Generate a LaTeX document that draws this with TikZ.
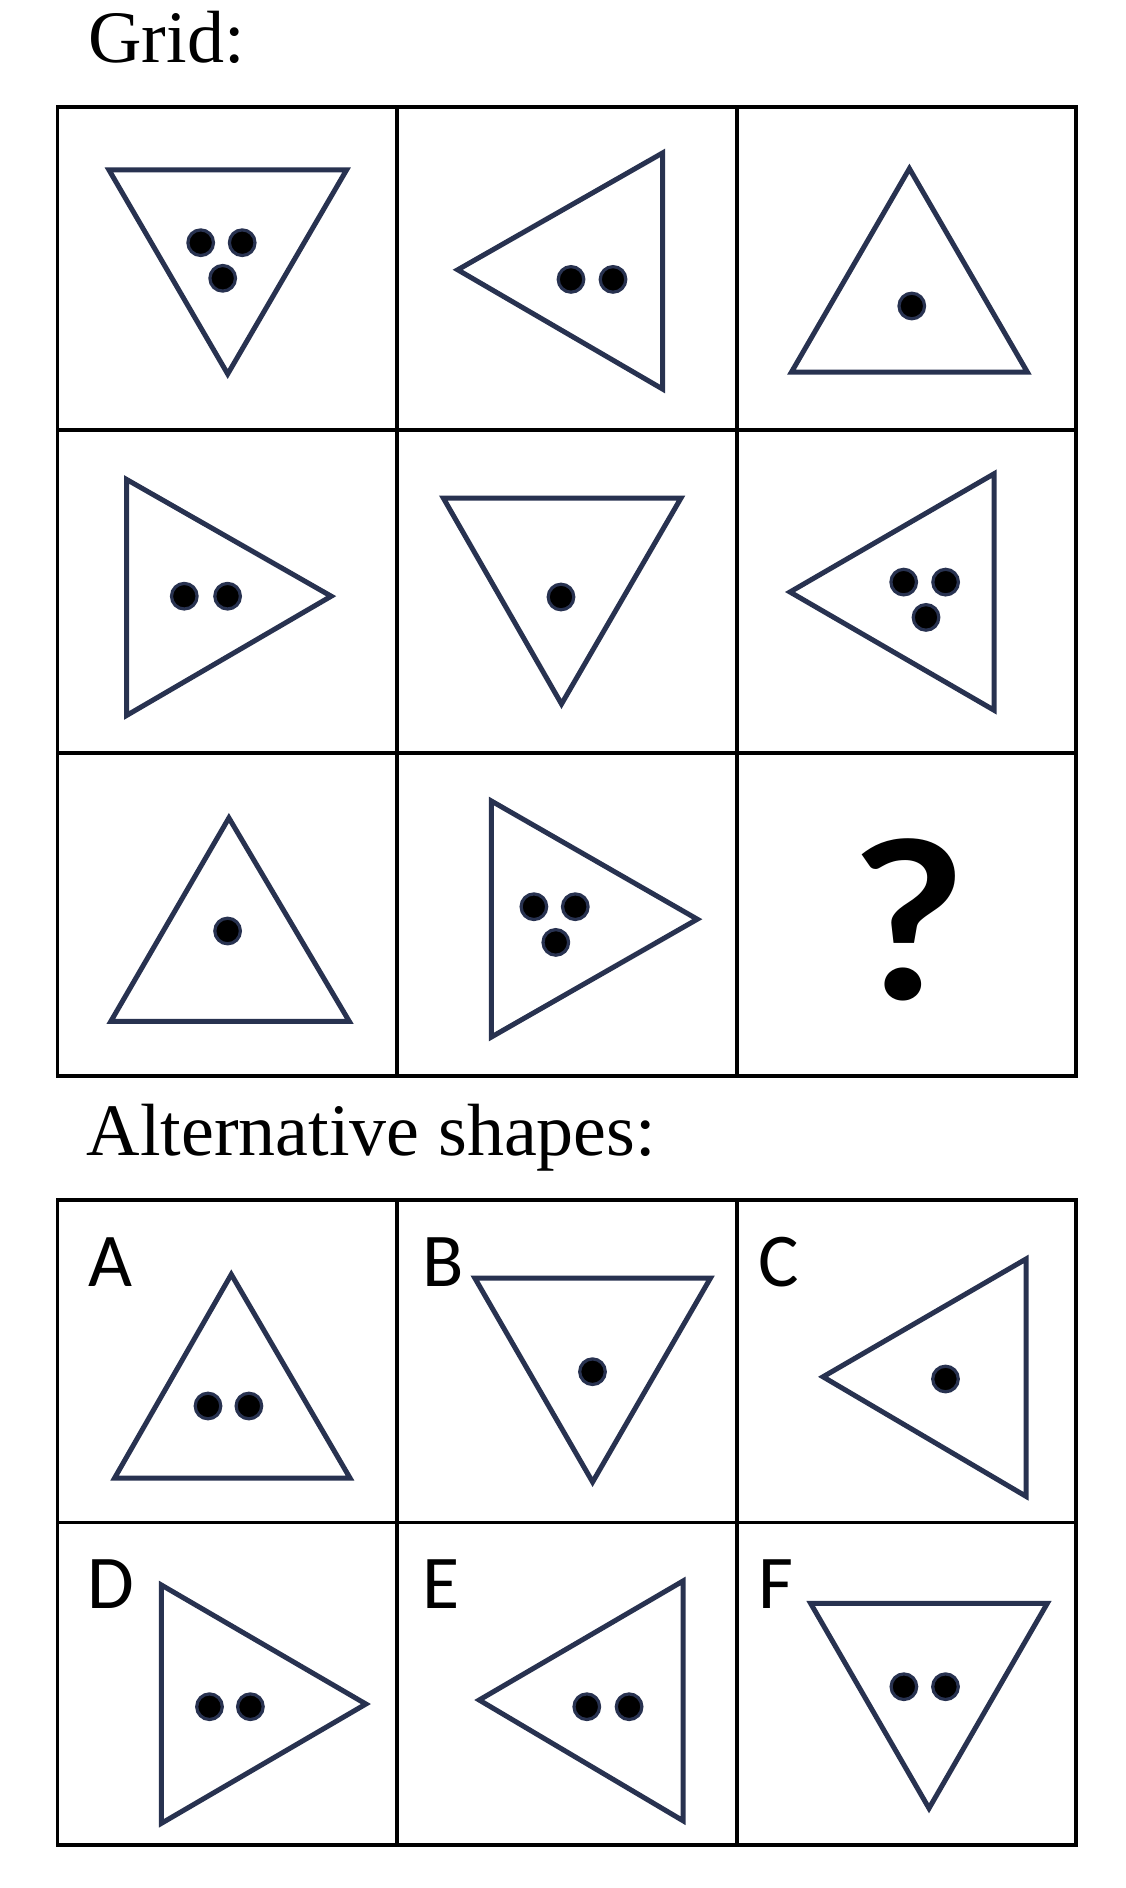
\documentclass[tikz,border=0pt]{standalone}
\usepackage{fontspec}
\usepackage{graphicx}
\setmainfont{Liberation Serif}
\newfontfamily\labelfont{Carlito}
\newfontfamily\qfont{Lato}
\definecolor{navy}{RGB}{40,50,80}
\tikzset{
  tri/.style={draw=navy, line width=2.5pt, line join=miter},
  blackdot/.style={fill=black, draw=navy, line width=1.6pt},
  gridline/.style={draw=black, line width=1.6pt},
  titletext/.style={anchor=base west, inner sep=0pt, font=\fontsize{37}{40}\selectfont},
  lettertext/.style={anchor=base west, inner sep=0pt, font=\labelfont\fontsize{38}{40}\selectfont},
}
\newcommand{\mydot}[2]{\path[blackdot] (#1,#2) circle[radius=6.4pt];}
\begin{document}
\begin{tikzpicture}[x=0.5pt,y=-0.5pt]
\fill[white] (0,0) rectangle (1125,1888);
\useasboundingbox (0,0) rectangle (1125,1888);

% titles
\node[titletext] (gridtitle) at (88,62.7) {Grid:};
\node[titletext] (alttitle) at (86.5,1155) {Alternative shapes:};

% grid lines
\draw[gridline] (57.5,107) rectangle (1076,1076);
\draw[gridline] (397,107) -- (397,1076);
\draw[gridline] (737,107) -- (737,1076);
\draw[gridline] (57.5,430) -- (1076,430);
\draw[gridline] (57.5,753) -- (1076,753);

% row 1
\draw[tri] (109,170) -- (346.5,170) -- (227.7,374) -- cycle;
\mydot{200.7}{242.7}\mydot{242.2}{242.7}\mydot{222.7}{278.3}
\draw[tri] (457.7,269.8) -- (662.5,153) -- (662.5,389) -- cycle;
\mydot{571}{279.4}\mydot{613}{279.4}
\draw[tri] (909.4,168.6) -- (1027.4,372.2) -- (791.4,372.2) -- cycle;
\mydot{911.8}{306}

% row 2
\draw[tri] (126.5,479.4) -- (331.2,596.2) -- (126.5,715.5) -- cycle;
\mydot{184.3}{596.2}\mydot{227.6}{596.2}
\draw[tri] (443.3,498) -- (681,498) -- (561.5,704) -- cycle;
\mydot{561}{597}
\draw[tri] (790,592) -- (994.2,473.7) -- (994.2,710.3) -- cycle;
\mydot{903.7}{582.1}\mydot{945.6}{582.1}\mydot{926}{617.4}

% row 3
\draw[tri] (228.9,817.9) -- (349.3,1021.4) -- (110.8,1021.4) -- cycle;
\mydot{227.6}{931}
\draw[tri] (491.4,801) -- (697.3,919.2) -- (491.4,1037) -- cycle;
\mydot{533.9}{906.7}\mydot{575.3}{906.7}\mydot{555.8}{942.4}
\node[font=\qfont\bfseries\fontsize{110}{112}\selectfont, anchor=base, inner sep=0pt] (qmark) at (909,999) {\scalebox{1.1}[1]{?}};

% alternatives grid
\draw[gridline] (57.5,1200) rectangle (1076,1845);
\draw[gridline] (397,1200) -- (397,1845);
\draw[gridline] (737,1200) -- (737,1845);
\draw[gridline] (57.5,1522.7) -- (1076,1522.7);

% A
\node[lettertext] (la) at (88,1286) {A};
\draw[tri] (231.3,1274.4) -- (350,1478) -- (114.6,1478) -- cycle;
\mydot{208}{1406}\mydot{248.9}{1406}
% B
\node[lettertext] (lb) at (422,1286) {B};
\draw[tri] (474.8,1278) -- (710.5,1278) -- (592.6,1482) -- cycle;
\mydot{592.5}{1371.7}
% C
\node[lettertext] (lc) at (758,1286) {C};
\draw[tri] (823,1376.8) -- (1026,1259) -- (1026,1496.3) -- cycle;
\mydot{945.5}{1379}
% D
\node[lettertext] (ld) at (87,1608) {D};
\draw[tri] (161.4,1585) -- (365.9,1704) -- (161.4,1823.3) -- cycle;
\mydot{209.5}{1706.7}\mydot{250.4}{1706.7}
% E
\node[lettertext] (le) at (422,1608) {E};
\draw[tri] (479.2,1700) -- (683,1581) -- (683,1820.7) -- cycle;
\mydot{586.8}{1706.7}\mydot{629.1}{1706.7}
% F
\node[lettertext] (lf) at (758,1608) {F};
\draw[tri] (810.6,1603.3) -- (1047.3,1603.3) -- (929,1808.3) -- cycle;
\mydot{903.9}{1686.7}\mydot{945.5}{1686.7}
\end{tikzpicture}
\end{document}
